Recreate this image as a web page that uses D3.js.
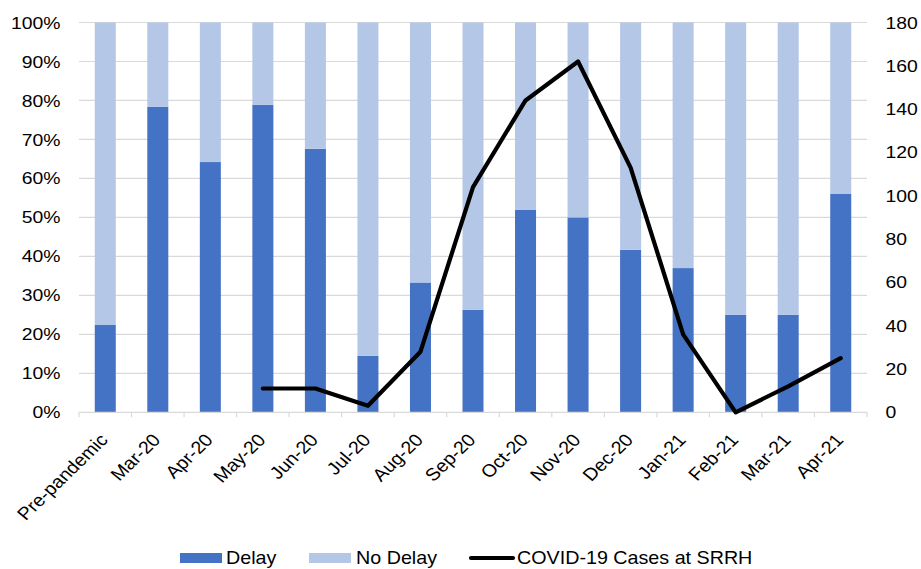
<html>
<head>
<style>
  body { margin: 0; background: white; font-family: "Liberation Sans", Arial, sans-serif; }
</style>
<script src="https://cdn.jsdelivr.net/npm/d3@7"></script>
</head>
<body>
<svg id="chart"></svg>
<script>
let months = ["Pre-pandemic", "Mar-20", "Apr-20", "May-20", "Jun-20", "Jul-20", "Aug-20", "Sep-20",
              "Oct-20", "Nov-20", "Dec-20", "Jan-21", "Feb-21", "Mar-21", "Apr-21"]
let delay = [22.4, 78.4, 64.2, 78.9, 67.6, 14.5, 33.3, 26.3, 52, 50, 41.7, 37, 25, 25, 56]
let noDelay = delay.map(d => 100 - d)
// no case data before May-20
let cases = [null, null, null, 11, 11, 3, 28, 104, 144, 162, 113, 36, 0, 12, 25]
let pctTicks = [0, 10, 20, 30, 40, 50, 60, 70, 80, 90, 100]
let caseTicks = [0, 20, 40, 60, 80, 100, 120, 140, 160, 180]

let width = 921, height = 569
let plotLeft = 79, plotRight = 867, plotTop = 22.5, plotBottom = 412.3
let fontSize = "17.3px"
let sx = 1.12   // text in the original is a bit wider than tall

let svg = d3.select("#chart").attr("width", width).attr("height", height)

let x = d3.scaleBand().domain(months).range([plotLeft, plotRight]).paddingInner(0.6).paddingOuter(0.3)
let yL = d3.scaleLinear().domain([0, 100]).range([plotBottom, plotTop])
let yR = d3.scaleLinear().domain([0, 180]).range([plotBottom, plotTop])

// gridlines
svg.append("g").selectAll("line").data(pctTicks.slice(1)).enter().append("line")
  .attr("x1", plotLeft).attr("x2", plotRight)
  .attr("y1", d => yL(d)).attr("y2", d => yL(d))
  .attr("stroke", "#d9d9d9").attr("stroke-width", 1.2)

// stacked bars
let bars = svg.append("g")
bars.selectAll(".delay").data(months).enter().append("rect")
  .attr("x", d => x(d)).attr("width", x.bandwidth())
  .attr("y", (d, i) => yL(delay[i])).attr("height", (d, i) => yL(0) - yL(delay[i]))
  .attr("fill", "#4472c4")
bars.selectAll(".nodelay").data(months).enter().append("rect")
  .attr("x", d => x(d)).attr("width", x.bandwidth())
  .attr("y", (d, i) => yL(delay[i] + noDelay[i])).attr("height", (d, i) => yL(delay[i]) - yL(delay[i] + noDelay[i]))
  .attr("fill", "#b4c7e7")

// x axis line + ticks between categories
let xa = svg.append("g")
xa.append("line").attr("x1", plotLeft).attr("x2", plotRight).attr("y1", plotBottom).attr("y2", plotBottom)
  .attr("stroke", "#d9d9d9").attr("stroke-width", 1.2)
xa.selectAll("line.tk").data(d3.range(months.length + 1)).enter().append("line")
  .attr("x1", i => plotLeft + i * (plotRight - plotLeft) / months.length)
  .attr("x2", i => plotLeft + i * (plotRight - plotLeft) / months.length)
  .attr("y1", plotBottom).attr("y2", plotBottom + 5)
  .attr("stroke", "#d9d9d9").attr("stroke-width", 1.2)
xa.selectAll("text").data(months).enter().append("text")
  .attr("transform", d => `translate(${x(d) + x.bandwidth() / 2 + 3.7},${plotBottom + 28.4}) scale(${sx},1) rotate(-47.3)`)
  .attr("text-anchor", "end")
  .style("font-size", "17.6px").attr("fill", "#000")
  .text(d => d)

// left axis labels
svg.append("g").selectAll("text").data(pctTicks).enter().append("text")
  .attr("transform", d => `translate(60.5,${yL(d)}) scale(${sx},1)`).attr("dy", "0.35em")
  .attr("text-anchor", "end").style("font-size", fontSize)
  .text(d => d + "%")

// right axis labels
svg.append("g").selectAll("text").data(caseTicks).enter().append("text")
  .attr("transform", d => `translate(885.5,${yR(d)}) scale(${sx},1)`).attr("dy", "0.35em")
  .attr("text-anchor", "start").style("font-size", fontSize)
  .text(d => d)

// covid line
let line = d3.line()
  .defined(d => d != null)
  .x((d, i) => x(months[i]) + x.bandwidth() / 2)
  .y(d => yR(d))
svg.append("path").datum(cases)
  .attr("d", line)
  .attr("fill", "none").attr("stroke", "#000").attr("stroke-width", 4.2)
  .attr("stroke-linejoin", "round").attr("stroke-linecap", "round")

// legend
let leg = svg.append("g").attr("transform", "translate(0,558)")
let legText = (lx, t) => leg.append("text")
  .attr("transform", `translate(${lx},0) scale(${sx},1)`).attr("dy", "0.35em")
  .style("font-size", "17.6px").text(t)
leg.append("rect").attr("x", 180).attr("y", -5).attr("width", 42).attr("height", 10).attr("fill", "#4472c4")
legText(226, "Delay")
leg.append("rect").attr("x", 309).attr("y", -5).attr("width", 42).attr("height", 10).attr("fill", "#b4c7e7")
legText(356, "No Delay")
leg.append("line").attr("x1", 471).attr("x2", 513).attr("y1", 0).attr("y2", 0)
  .attr("stroke", "#000").attr("stroke-width", 4.2).attr("stroke-linecap", "round")
legText(517, "COVID-19 Cases at SRRH")
</script>
</body>
</html>
